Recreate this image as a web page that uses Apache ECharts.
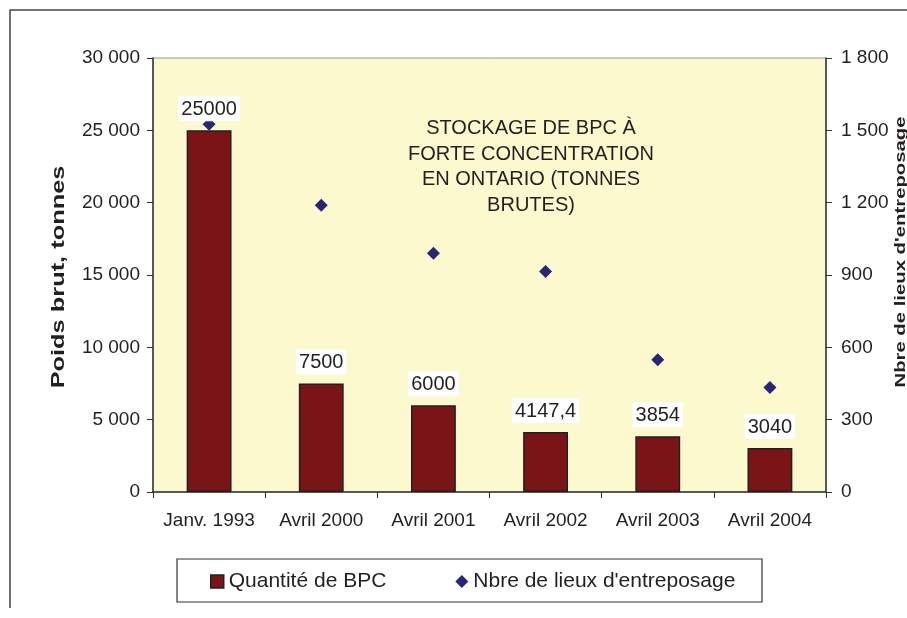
<!DOCTYPE html>
<html>
<head>
<meta charset="utf-8">
<script src="https://cdn.jsdelivr.net/npm/echarts@6/dist/echarts.min.js"></script>
<style>
html,body{margin:0;padding:0;background:#fff;}
#chart{width:907px;height:618px;}
</style>
</head>
<body>
<div id="chart"></div>
<script>
const categories = ['Janv. 1993', 'Avril 2000', 'Avril 2001', 'Avril 2002', 'Avril 2003', 'Avril 2004'];
const quantiteBPC = [25000, 7500, 6000, 4147.4, 3854, 3040];
const nbreLieux = [1525, 1189, 990, 914, 548, 433];
const leftTicks = [0, 5000, 10000, 15000, 20000, 25000, 30000];
const rightTicks = [0, 300, 600, 900, 1200, 1500, 1800];
const titleLines = ['STOCKAGE DE BPC À', 'FORTE CONCENTRATION', 'EN ONTARIO (TONNES', 'BRUTES)'];
const seriesNames = ['Quantité de BPC', "Nbre de lieux d'entreposage"];
const axisNames = ['Poids brut, tonnes', "Nbre de lieux d'entreposage"];

const FONT = '"Liberation Sans", Arial, Helvetica, sans-serif';
const fmtThousands = v => String(v).replace(/\B(?=(\d{3})+(?!\d))/g, ' ');

const chart = echarts.init(document.getElementById('chart'), null, {renderer: 'canvas'});
chart.setOption({
  animation: false,
  backgroundColor: '#ffffff',
  textStyle: {fontFamily: FONT},
  title: {
    text: titleLines.join('\n'),
    left: 531,
    top: 116,
    padding: 0,
    textAlign: 'center',
    textStyle: {fontFamily: FONT, fontSize: 20, fontWeight: 'normal', color: '#231f20', lineHeight: 25.5, align: 'center'}
  },
  grid: {
    left: 153, right: 81, top: 58, bottom: 126,
    show: true, backgroundColor: '#fcf9cf', borderColor: '#9a9a9a', borderWidth: 1,
    containLabel: false
  },
  legend: {
    left: 210, top: 571, padding: 0,
    itemWidth: 13, itemHeight: 13, itemGap: 69,
    textStyle: {fontFamily: FONT, fontSize: 21, color: '#231f20'},
    data: [
      {name: seriesNames[0], icon: 'rect', itemStyle: {color: '#7b1416', borderColor: '#231f20', borderWidth: 1.5}},
      {name: seriesNames[1], icon: 'diamond', itemStyle: {color: '#262675'}}
    ]
  },
  xAxis: {
    type: 'category',
    data: categories,
    axisLine: {lineStyle: {color: '#333', width: 1.5}},
    axisTick: {show: true, length: 6, interval: 0, lineStyle: {color: '#333'}},
    axisLabel: {color: '#231f20', fontSize: 19, fontFamily: FONT, margin: 19, interval: 0}
  },
  yAxis: [
    {
      type: 'value', min: 0, max: 30000, interval: 5000, position: 'left',
      axisLine: {show: true, lineStyle: {color: '#333', width: 1.5}},
      axisTick: {show: true, length: 6, lineStyle: {color: '#333'}},
      splitLine: {show: false},
      axisLabel: {color: '#231f20', fontSize: 19, fontFamily: FONT, margin: 13, formatter: v => fmtThousands(v)}
    },
    {
      type: 'value', min: 0, max: 1800, interval: 300, position: 'right',
      axisLine: {show: true, lineStyle: {color: '#333', width: 1.5}},
      axisTick: {show: true, length: 6, lineStyle: {color: '#333'}},
      splitLine: {show: false},
      axisLabel: {color: '#231f20', fontSize: 19, fontFamily: FONT, margin: 15, formatter: v => fmtThousands(v)}
    }
  ],
  series: [
    {
      name: seriesNames[1],
      type: 'scatter',
      yAxisIndex: 1,
      data: nbreLieux,
      symbol: 'diamond',
      symbolSize: 13,
      z: 2,
      itemStyle: {color: '#262675', opacity: 1}
    },
    {
      name: seriesNames[0],
      type: 'bar',
      yAxisIndex: 0,
      data: quantiteBPC,
      barWidth: '40%',
      z: 3,
      itemStyle: {color: '#7b1416', borderColor: '#231f20', borderWidth: 1.5},
      label: {
        show: true, position: 'top', distance: 9,
        color: '#231f20', fontSize: 20, fontFamily: FONT,
        backgroundColor: '#ffffff', padding: [3, 3, 2, 3],
        formatter: p => String(p.value).replace('.', ',')
      }
    }
  ],
  graphic: [
    {type: 'polyline', silent: true, z: 0, shape: {points: [[10, 608], [10, 10], [907, 10]]}, style: {stroke: '#444', lineWidth: 1.5, fill: null}},
    {type: 'rect', silent: true, z: 0, shape: {x: 177, y: 559, width: 585, height: 43}, style: {stroke: '#333', lineWidth: 1.2, fill: '#ffffff'}},
    {type: 'text', silent: true, x: 59, y: 277, rotation: Math.PI / 2, scaleX: 1.45,
      style: {text: axisNames[0], fontFamily: FONT, fontSize: 17.5, fontWeight: 'bold', fill: '#231f20', align: 'center', verticalAlign: 'middle'}},
    {type: 'text', silent: true, x: 901, y: 252, rotation: Math.PI / 2, scaleX: 1.4,
      style: {text: axisNames[1], fontFamily: FONT, fontSize: 14.5, fontWeight: 'bold', fill: '#231f20', align: 'center', verticalAlign: 'middle'}}
  ]
});
</script>
</body>
</html>
